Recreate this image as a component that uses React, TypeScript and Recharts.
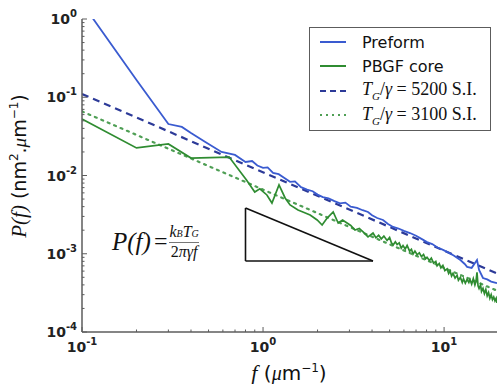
import React from 'react';
import { LineChart, Line, XAxis, YAxis, ReferenceLine } from 'recharts';

// Preform spectrum (f in um^-1, P in nm^2.um^-1)
const preformF = [0.1, 0.2, 0.3, 0.356, 0.4, 0.48, 0.59, 0.7, 0.8, 0.87, 0.93, 1.0, 1.06, 1.136, 1.22, 1.3, 1.41, 1.5, 1.62, 1.75, 1.88, 2.0, 2.14, 2.3, 2.48, 2.66, 2.85, 3.05, 3.3, 3.55, 3.8, 4.0, 4.27, 4.6, 4.9, 5.23, 5.6, 6.0, 6.48, 7.0, 7.5, 8.05, 8.6, 9.2, 9.87, 10.5, 11.3, 12.3, 13.0, 13.4, 14.2, 15.2, 15.6, 16.4, 17.3, 18.2, 19.6];
const preformP = [1.6, 0.166, 0.0455, 0.0418, 0.0349, 0.0268, 0.02, 0.0183, 0.0149, 0.0153, 0.0134, 0.0125, 0.0127, 0.0108, 0.0104, 0.0094, 0.0083, 0.0084, 0.0071, 0.0066, 0.0063, 0.0057, 0.0053, 0.0051, 0.0047, 0.0044, 0.0045, 0.004, 0.00385, 0.0036, 0.00342, 0.0031, 0.00286, 0.0027, 0.0024, 0.0022, 0.0021, 0.00196, 0.00184, 0.0017, 0.00155, 0.00141, 0.00133, 0.0012, 0.00112, 0.00104, 0.00095, 0.00083, 0.00074, 0.00068, 0.00066, 0.00083, 0.00062, 0.00049, 0.00047, 0.00044, 0.00042];

// PBGF core spectrum
const coreF = [0.1, 0.2, 0.3, 0.4, 0.65, 0.81, 0.9, 0.96, 1.05, 1.12, 1.225, 1.324, 1.41, 1.56, 1.66, 1.82, 1.99, 2.12, 2.26, 2.44, 2.6, 2.75, 2.91, 3.05, 3.22, 3.4, 3.57, 3.8,
  4.05, 4.2, 4.35, 4.5, 4.65, 4.84, 5.0, 5.12, 5.23, 5.38, 5.5, 5.65, 5.8, 5.93, 6.1, 6.25, 6.45, 6.6, 6.74, 6.9, 7.1, 7.3, 7.5, 7.7, 7.9, 8.05, 8.3, 8.5, 8.75, 9.0, 9.15, 9.4, 9.6, 9.85,
  10.1, 10.4, 10.6, 10.8, 11.0, 11.2, 11.5, 11.8, 12.0, 12.3, 12.6, 12.8, 13.1, 13.4, 13.7, 13.9, 14.2, 14.5, 14.8, 15.0, 15.2, 15.4, 15.6, 15.9, 16.1, 16.4, 16.7, 17.0, 17.3, 17.6, 17.9, 18.2, 18.5, 18.8, 19.1, 19.4, 19.6];
const coreP = [0.0527, 0.0225, 0.0253, 0.0167, 0.0172, 0.00875, 0.00615, 0.00675, 0.00564, 0.00445, 0.00756, 0.00516, 0.0042, 0.00362, 0.00342, 0.00313, 0.0027, 0.00233, 0.00286, 0.00342, 0.00247, 0.0027, 0.00247, 0.0023, 0.00201, 0.0021, 0.0019, 0.00164,
  0.00184, 0.0016, 0.00172, 0.00155, 0.00168, 0.00148, 0.00162, 0.00138, 0.00129, 0.00142, 0.00131, 0.00138, 0.00118, 0.00127, 0.00115, 0.00128, 0.00108, 0.00114, 0.00099, 0.00108, 0.00097, 0.00103, 0.00092, 0.00098, 0.00086, 0.0009, 0.00082, 0.00088, 0.00076, 0.0008, 0.0007, 0.00075, 0.00066, 0.00071,
  0.00061, 0.00064, 0.00056, 0.0006, 0.00052, 0.00056, 0.00049, 0.00053, 0.00046, 0.0005, 0.00043, 0.00048, 0.00042, 0.00047, 0.00043, 0.00047, 0.00041, 0.00048, 0.0004, 0.00044, 0.00058, 0.00039, 0.00036, 0.0004, 0.00033, 0.00036, 0.00031, 0.00035, 0.00029, 0.00032, 0.00027, 0.0003, 0.00026, 0.00028, 0.00025, 0.00027, 0.000235];

// 1/f fits, end points
const fitF = [0.1, 19.6];
const fit5200P = [0.11, 0.00056];
const fit3100P = [0.066, 0.000337];

// slope triangle corners
const triangleF = [0.8, 0.8, 4.05];
const triangleP = [0.00384, 0.000807, 0.000807];

const xMajor = [0.1, 1, 10];
const yMajor = [0.0001, 0.001, 0.01, 0.1, 1];
const xTicks = [...xMajor, ...[0.1, 1, 10].flatMap(d => [2, 3, 4, 5, 6, 7, 8, 9].map(m => m * d)).filter(v => v < 19.6)];
const yTicks = [...yMajor, ...[0.0001, 0.001, 0.01, 0.1].flatMap(d => [2, 3, 4, 5, 6, 7, 8, 9].map(m => m * d))];

const zip = (f: number[], p: number[]) => f.map((v, i) => ({ f: v, P: p[i] }));
const preform = zip(preformF, preformP);
const core = zip(coreF, coreP);
const fit5200 = zip(fitF, fit5200P);
const fit3100 = zip(fitF, fit3100P);

const BLUE = '#3a5bd0';
const NAVY = '#2c3a98';
const GREEN = '#2f8c31';
const LGREEN = '#4f9f55';
const SPINE = '#5c5c5c';
const SANS = '"DejaVu Sans", sans-serif';
const SERIF = '"Liberation Serif", "DejaVu Serif", serif';

const isMajor = (v: number) => {
  const lg = Math.log10(v);
  return Math.abs(lg - Math.round(lg)) < 1e-6;
};

const XTick = (props: any) => {
  const { x, y, payload, top } = props;
  const major = isMajor(payload.value);
  const len = major ? 5 : 2.5;
  return (
    <g>
      <line x1={x} x2={x} y1={y} y2={top ? y + len : y - len} stroke={SPINE} strokeWidth={1} />
      {major && !top && (
        <text x={x} y={y + 20} textAnchor="middle" fontFamily={SANS} fontWeight="bold" fontSize={14} fill="#222">
          10<tspan dy={-7} fontSize={10}>{Math.round(Math.log10(payload.value))}</tspan>
        </text>
      )}
    </g>
  );
};

const YTick = (props: any) => {
  const { x, y, payload } = props;
  const major = isMajor(payload.value);
  const len = major ? 5 : 2.5;
  return (
    <g>
      <line x1={x} x2={x + len} y1={y} y2={y} stroke={SPINE} strokeWidth={1} />
      {major && (
        <text x={x - 5} y={y + 5} textAnchor="end" fontFamily={SANS} fontWeight="bold" fontSize={14} fill="#222">
          10<tspan dy={-7} fontSize={10}>{Math.round(Math.log10(payload.value))}</tspan>
        </text>
      )}
    </g>
  );
};

const fitLabel = (n: string) => (
  <span style={{ fontFamily: SERIF, fontSize: 18 }}>
    <i>T</i><sub style={{ fontSize: 11 }}><i>G</i></sub>/<i>γ</i> = {n} S.I.
  </span>
);

const legendRows = [
  { key: 'preform', color: BLUE, dash: undefined, label: <span style={{ fontFamily: SANS }}>Preform</span> },
  { key: 'core', color: GREEN, dash: undefined, label: <span style={{ fontFamily: SANS }}>PBGF core</span> },
  { key: 'f5200', color: NAVY, dash: '6 4', label: fitLabel('5200') },
  { key: 'f3100', color: LGREEN, dash: '2 4', label: fitLabel('3100') },
];

const App: React.FC = () => {
  return (
    <div style={{ position: 'absolute', left: 0, top: 0, width: 497, height: 384, overflow: 'hidden', background: '#fff' }}>
      <LineChart width={497} height={384} margin={{ top: 19, right: 0, bottom: 0, left: 0 }}>
        <XAxis
          dataKey="f" type="number" scale="log" domain={[0.1, 19.6]} allowDataOverflow
          ticks={xTicks} interval={0} tickSize={0} tickMargin={0} height={52}
          axisLine={{ stroke: SPINE, strokeWidth: 1.5 }} tick={<XTick />}
        />
        <XAxis
          xAxisId="top" orientation="top" dataKey="f" type="number" scale="log" domain={[0.1, 19.6]} allowDataOverflow
          ticks={xTicks} interval={0} tickSize={0} tickMargin={0} height={0}
          axisLine={{ stroke: SPINE, strokeWidth: 1.5 }} tick={<XTick top />}
        />
        <YAxis
          dataKey="P" type="number" scale="log" domain={[0.0001, 1]} allowDataOverflow
          ticks={yTicks} interval={0} tickSize={0} tickMargin={0} width={82}
          axisLine={{ stroke: SPINE, strokeWidth: 1.5 }} tick={<YTick />}
        />
        <Line data={fit5200} dataKey="P" stroke={NAVY} strokeWidth={2.2} strokeDasharray="7 5" dot={false} isAnimationActive={false} />
        <Line data={fit3100} dataKey="P" stroke={LGREEN} strokeWidth={2.2} strokeDasharray="2 5" strokeLinecap="round" dot={false} isAnimationActive={false} />
        <Line data={core} dataKey="P" stroke={GREEN} strokeWidth={1.7} dot={false} isAnimationActive={false} />
        <Line data={preform} dataKey="P" stroke={BLUE} strokeWidth={1.8} dot={false} isAnimationActive={false} />
        <ReferenceLine segment={[{ x: triangleF[0], y: triangleP[0] }, { x: triangleF[1], y: triangleP[1] }]} stroke="#111" strokeWidth={1.6} />
        <ReferenceLine segment={[{ x: triangleF[1], y: triangleP[1] }, { x: triangleF[2], y: triangleP[2] }]} stroke="#111" strokeWidth={1.6} />
        <ReferenceLine segment={[{ x: triangleF[2], y: triangleP[2] }, { x: triangleF[0], y: triangleP[0] }]} stroke="#111" strokeWidth={1.6} />
      </LineChart>

      {/* legend */}
      <div style={{ position: 'absolute', left: 309, top: 27, width: 180, height: 102, border: `1.5px solid ${SPINE}`, background: '#fff' }}>
        {legendRows.map((r, i) => (
          <div key={r.key} style={{ position: 'absolute', left: 0, top: 3 + i * 24.3, height: 22, display: 'flex', alignItems: 'center', fontSize: 16, color: '#111', whiteSpace: 'nowrap' }}>
            <svg width={52} height={22}>
              <line x1={10} x2={36} y1={11} y2={11} stroke={r.color} strokeWidth={2} strokeDasharray={r.dash} />
            </svg>
            {r.label}
          </div>
        ))}
      </div>

      {/* formula */}
      <div style={{ position: 'absolute', left: 112, top: 224, display: 'flex', alignItems: 'center', fontFamily: SERIF, color: '#111', whiteSpace: 'nowrap' }}>
        <span style={{ fontSize: 25, fontStyle: 'italic' }}>P(f)</span>
        <span style={{ fontSize: 24, margin: '0 2px 0 3px' }}>=</span>
        <span style={{ display: 'inline-flex', flexDirection: 'column', alignItems: 'center', fontSize: 16, fontStyle: 'italic', lineHeight: '15px' }}>
          <span style={{ borderBottom: '0.8px solid #777', paddingBottom: 1 }}>k<span style={{ fontSize: 10 }}>B</span>T<span style={{ fontSize: 10 }}>G</span></span>
          <span style={{ paddingTop: 1 }}><span style={{ fontStyle: 'normal' }}>2</span>πγf</span>
        </span>
      </div>

      {/* y label */}
      <div style={{ position: 'absolute', left: 19, top: 166, transform: 'translate(-50%, -50%) rotate(-90deg)', whiteSpace: 'nowrap', fontSize: 19, fontFamily: SANS, color: '#111' }}>
        <span style={{ fontFamily: SERIF, fontStyle: 'italic', fontSize: 21 }}>P(f)</span> (nm<sup style={{ fontSize: 12 }}>2</sup>.<span style={{ fontFamily: SERIF, fontStyle: 'italic' }}>μ</span>m<sup style={{ fontSize: 12 }}>−1</sup>)
      </div>

      {/* x label */}
      <div style={{ position: 'absolute', left: 289, top: 373, transform: 'translate(-50%, -50%)', whiteSpace: 'nowrap', fontSize: 20, fontFamily: SANS, color: '#111' }}>
        <span style={{ fontFamily: SERIF, fontStyle: 'italic', fontSize: 22 }}>f</span> (<span style={{ fontFamily: SERIF, fontStyle: 'italic' }}>μ</span>m<sup style={{ fontSize: 12 }}>−1</sup>)
      </div>
    </div>
  );
};

export default App;
